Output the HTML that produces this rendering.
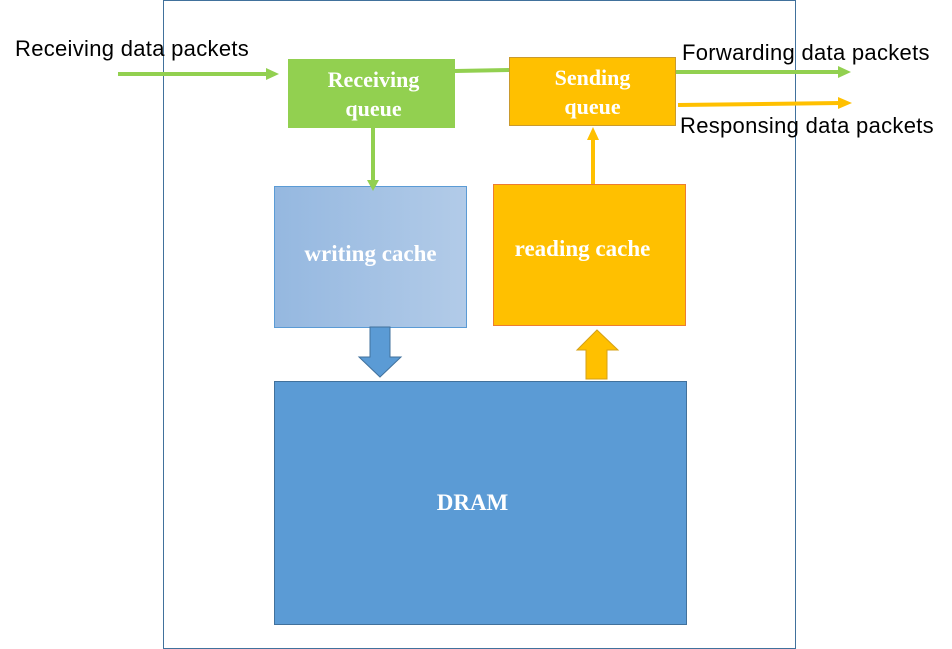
<!DOCTYPE html>
<html><head><style>
body{margin:0;background:#fff;width:952px;height:649px;overflow:hidden;position:relative;font-family:"Liberation Sans",sans-serif}
.b{position:absolute;box-sizing:border-box;color:#fff;font-family:"Liberation Serif",serif;font-weight:bold;display:flex;align-items:center;justify-content:center;text-align:center}
.t{position:absolute;font-size:22px;color:#000;white-space:nowrap;letter-spacing:0.3px}
</style></head><body>
<div style="position:absolute;left:163px;top:0;width:633px;height:649px;border:1px solid #41719c;box-sizing:border-box"></div>
<div class="b" style="left:288px;top:59px;width:167px;height:69px;background:#92d050;font-size:22px;line-height:29px;padding-left:4px">Receiving<br>queue</div>
<div class="b" style="left:509px;top:57px;width:167px;height:69px;background:#ffc000;border:1px solid #c99a2e;font-size:22px;line-height:29px">Sending<br>queue</div>
<div class="b" style="left:274px;top:186px;width:193px;height:142px;background:linear-gradient(90deg,#95b8e0,#b2cbe8);border:1px solid #5b9bd5;font-size:23px;padding-bottom:6px">writing cache</div>
<div class="b" style="left:493px;top:184px;width:193px;height:142px;background:#ffc000;border:1px solid #ed7d31;font-size:23px;padding-bottom:12px;padding-right:14px">reading cache</div>
<div class="b" style="left:274px;top:381px;width:413px;height:244px;background:#5b9bd5;border:1px solid #41719c;font-size:23px;padding-right:16px">DRAM</div>
<svg width="952" height="649" style="position:absolute;left:0;top:0">
<g stroke="#92d050" stroke-width="4" fill="#92d050">
<line x1="118" y1="74" x2="268" y2="74"/><polygon points="266,68 279,74 266,80" stroke="none"/>
<line x1="455" y1="71" x2="509" y2="70"/>
<line x1="676" y1="72" x2="840" y2="72"/><polygon points="838,66 851,72 838,78" stroke="none"/>
<line x1="373" y1="128" x2="373" y2="182"/><polygon points="367,180 373,191 379,180" stroke="none"/>
</g>
<g stroke="#ffc000" stroke-width="4" fill="#ffc000">
<line x1="678" y1="105" x2="840" y2="103"/><polygon points="838,97 852,103 838,109" stroke="none"/>
<line x1="593" y1="184" x2="593" y2="138"/><polygon points="587,140 593,127 599,140" stroke="none"/>
</g>
<polygon points="370,327 390,327 390,357 401,357 380,377 359,357 370,357" fill="#5b9bd5" stroke="#41719c" stroke-width="1"/>
<polygon points="597,330 618,350 607,350 607,379 586,379 586,350 577,350" fill="#ffc000" stroke="#d4a017" stroke-width="1"/>
</svg>
<div class="t" style="left:15px;top:36px">Receiving data packets</div>
<div class="t" style="left:682px;top:40px">Forwarding data packets</div>
<div class="t" style="left:680px;top:113px">Responsing data packets</div>
</body></html>
